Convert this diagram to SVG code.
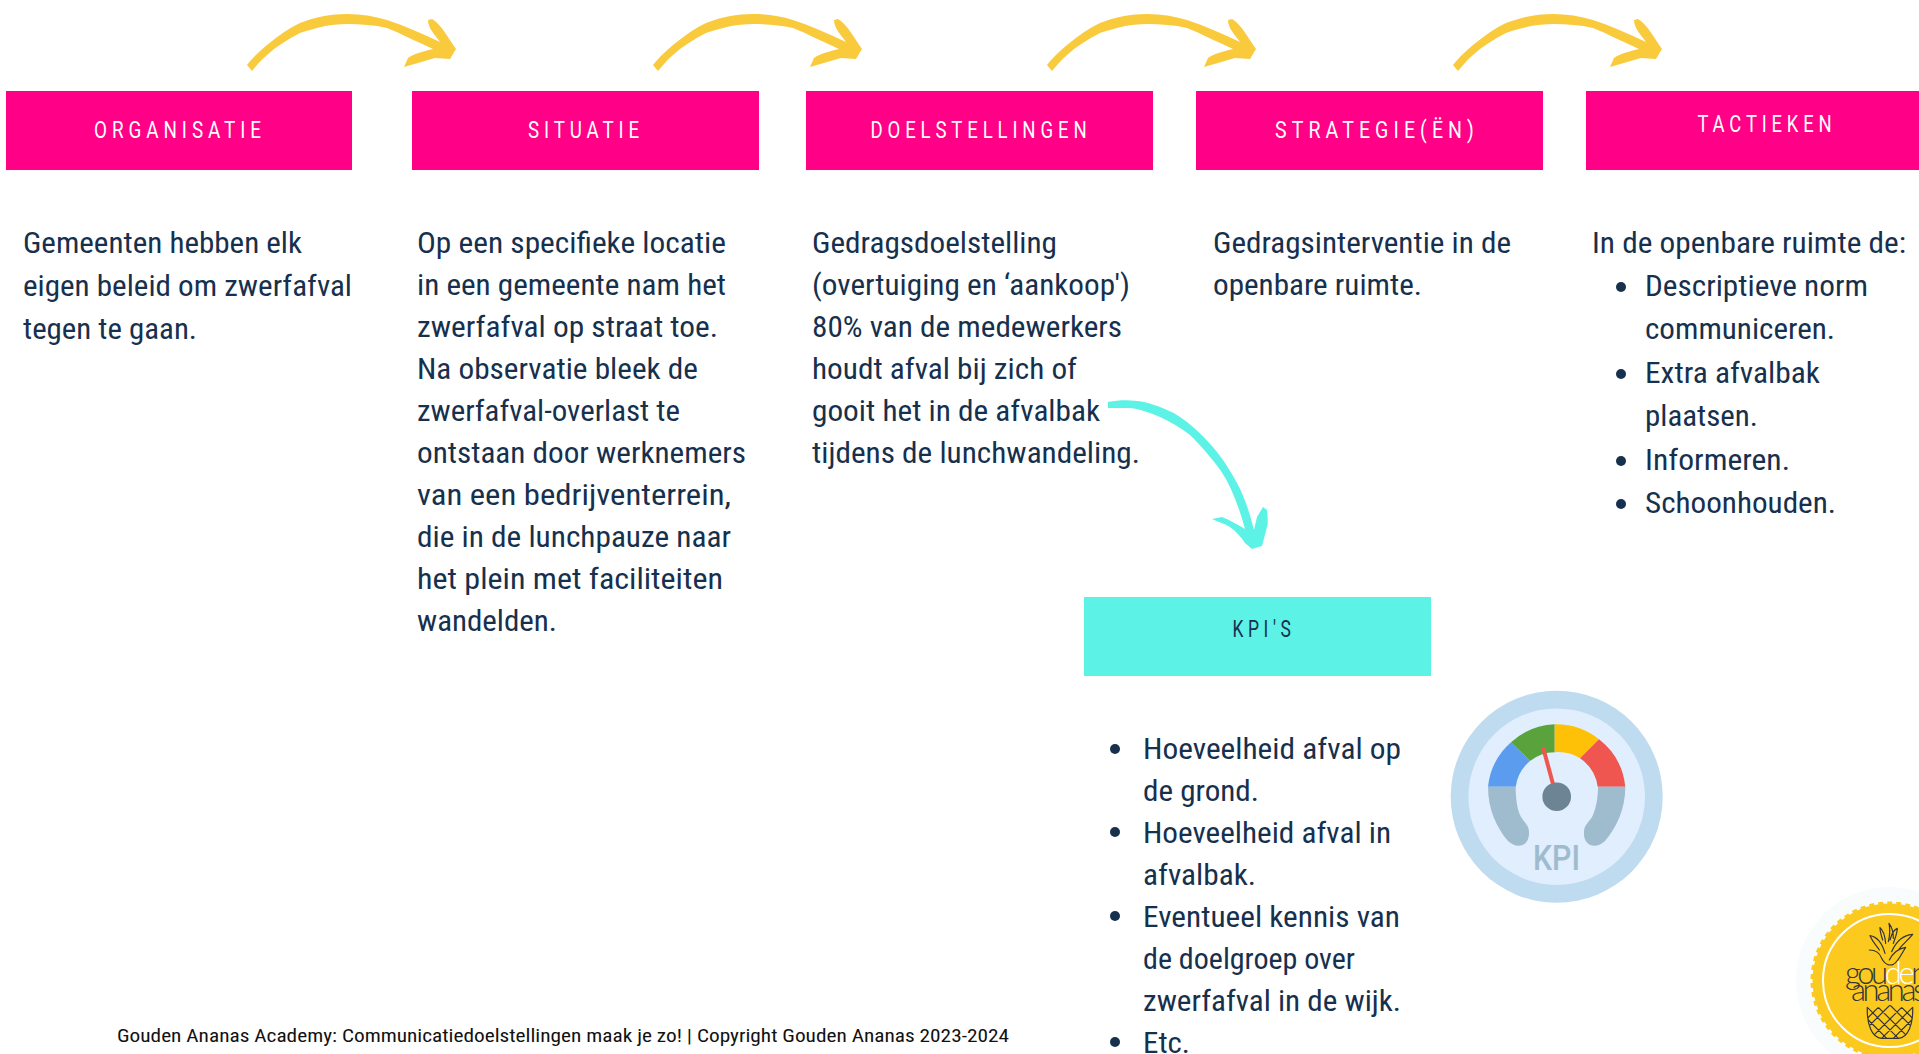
<svg xmlns="http://www.w3.org/2000/svg" width="1919" height="1054" viewBox="0 0 1919 1054">
<style>
text{font-family:"Roboto","Liberation Sans",sans-serif}
.b{font-size:30px;fill:#16304d;font-stretch:condensed}
.l{font-size:23px;font-weight:400;letter-spacing:6px;fill:#fff;text-anchor:middle}
.pk{fill:#ff0087}
.tq{fill:#5df2e6}
.ye{fill:#f9cb3c}
.bu{fill:#16304d}
.f{font-size:19px;fill:#111;font-stretch:condensed}
.ln{fill:none;stroke:#33353a;stroke-width:3.6;stroke-linecap:round;stroke-linejoin:round}
.lg{font-size:31px;font-family:"Lato",sans-serif;font-weight:300;letter-spacing:-3.4px;fill:#33353a}
</style>
<defs>
<path id="ya" class="ye" d="M247,65C252,58 259,52 267,45C278,36 289,28 300,23C315,17 331,14 347,14C361,14 374,16 387,20C405,26 423,34 440,42C435,35 428,28 428,20L432,19C442,25 448,38 456,49L450,59L435,58L404,67L408,58C415,53 425,51 433,49C417,42 402,34 387,28C374,25 361,24 347,24C338,24 331,25 325,26C317,28 308,30 300,33C288,39 277,46 267,55C261,60 257,65 252,71Z"/>
<clipPath id="pc"><path d="M82,112L115,112L150,105L185,112L218,112C220,160 205,205 175,205L125,205C95,205 80,160 82,112Z"/></clipPath>
</defs>
<rect width="1919" height="1054" fill="#fff"/>
<g id="connectors">
<use href="#ya"/>
<use href="#ya" x="406"/>
<use href="#ya" x="800"/>
<use href="#ya" x="1206"/>
<path class="tq" d="M1108,402C1118,400 1128,400 1137,401C1148,402 1158,406 1167,410C1177,414 1185,420 1193,427C1202,435 1210,443 1217,452C1225,462 1231,472 1237,483C1245,498 1250,514 1254,530C1255,525 1256,522 1257,517L1263,507L1267,510C1268,520 1268,525 1267,527L1262,546L1252,549L1245,543C1240,536 1236,531 1230,527C1224,523 1218,522 1212,519L1222,517C1230,520 1238,525 1245,529C1241,514 1236,500 1230,487C1225,476 1218,466 1210,457C1204,449 1197,442 1190,435C1181,428 1171,422 1160,417C1151,413 1140,409 1130,408L1108,408Z"/>
</g>
<g id="organisatie">
<rect class="pk" x="6" y="91" width="346" height="79"/>
<text class="l" x="180" y="138" textLength="172" lengthAdjust="spacingAndGlyphs">ORGANISATIE</text>
<text class="b" x="23" y="253" textLength="279" lengthAdjust="spacingAndGlyphs">Gemeenten hebben elk</text>
<text class="b" x="23" y="296" textLength="329" lengthAdjust="spacingAndGlyphs">eigen beleid om zwerfafval</text>
<text class="b" x="23" y="339" textLength="174" lengthAdjust="spacingAndGlyphs">tegen te gaan.</text>
</g>
<g id="situatie">
<rect class="pk" x="412" y="91" width="347" height="79"/>
<text class="l" x="586" y="138" textLength="116" lengthAdjust="spacingAndGlyphs">SITUATIE</text>
<text class="b" x="417" y="253" textLength="309" lengthAdjust="spacingAndGlyphs">Op een specifieke locatie</text>
<text class="b" x="417" y="295" textLength="309" lengthAdjust="spacingAndGlyphs">in een gemeente nam het</text>
<text class="b" x="417" y="337" textLength="301" lengthAdjust="spacingAndGlyphs">zwerfafval op straat toe.</text>
<text class="b" x="417" y="379" textLength="281" lengthAdjust="spacingAndGlyphs">Na observatie bleek de</text>
<text class="b" x="417" y="421" textLength="263" lengthAdjust="spacingAndGlyphs">zwerfafval-overlast te</text>
<text class="b" x="417" y="463" textLength="329" lengthAdjust="spacingAndGlyphs">ontstaan door werknemers</text>
<text class="b" x="417" y="505" textLength="314" lengthAdjust="spacingAndGlyphs">van een bedrijventerrein,</text>
<text class="b" x="417" y="547" textLength="314" lengthAdjust="spacingAndGlyphs">die in de lunchpauze naar</text>
<text class="b" x="417" y="589" textLength="306" lengthAdjust="spacingAndGlyphs">het plein met faciliteiten</text>
<text class="b" x="417" y="631" textLength="140" lengthAdjust="spacingAndGlyphs">wandelden.</text>
</g>
<g id="doelstellingen">
<rect class="pk" x="806" y="91" width="347" height="79"/>
<text class="l" x="981" y="138" textLength="221" lengthAdjust="spacingAndGlyphs">DOELSTELLINGEN</text>
<text class="b" x="812" y="253" textLength="245" lengthAdjust="spacingAndGlyphs">Gedragsdoelstelling</text>
<text class="b" x="812" y="295" textLength="318" lengthAdjust="spacingAndGlyphs">(overtuiging en ‘aankoop')</text>
<text class="b" x="812" y="337" textLength="310" lengthAdjust="spacingAndGlyphs">80% van de medewerkers</text>
<text class="b" x="812" y="379" textLength="265" lengthAdjust="spacingAndGlyphs">houdt afval bij zich of</text>
<text class="b" x="812" y="421" textLength="288" lengthAdjust="spacingAndGlyphs">gooit het in de afvalbak</text>
<text class="b" x="812" y="463" textLength="328" lengthAdjust="spacingAndGlyphs">tijdens de lunchwandeling.</text>
</g>
<g id="strategie">
<rect class="pk" x="1196" y="91" width="347" height="79"/>
<text class="l" x="1377" y="138" textLength="204" lengthAdjust="spacingAndGlyphs">STRATEGIE(ËN)</text>
<text class="b" x="1213" y="253" textLength="298" lengthAdjust="spacingAndGlyphs">Gedragsinterventie in de</text>
<text class="b" x="1213" y="295" textLength="209" lengthAdjust="spacingAndGlyphs">openbare ruimte.</text>
</g>
<g id="tactieken">
<rect class="pk" x="1586" y="91" width="333" height="79"/>
<text class="l" x="1767" y="132" textLength="139" lengthAdjust="spacingAndGlyphs">TACTIEKEN</text>
<text class="b" x="1592" y="253" textLength="314" lengthAdjust="spacingAndGlyphs">In de openbare ruimte de:</text>
<circle class="bu" cx="1621" cy="287" r="5"/>
<text class="b" x="1645" y="296" textLength="223" lengthAdjust="spacingAndGlyphs">Descriptieve norm</text>
<text class="b" x="1645" y="339" textLength="190" lengthAdjust="spacingAndGlyphs">communiceren.</text>
<circle class="bu" cx="1621" cy="374" r="5"/>
<text class="b" x="1645" y="383" textLength="175" lengthAdjust="spacingAndGlyphs">Extra afvalbak</text>
<text class="b" x="1645" y="426" textLength="113" lengthAdjust="spacingAndGlyphs">plaatsen.</text>
<circle class="bu" cx="1621" cy="461" r="5"/>
<text class="b" x="1645" y="470" textLength="145" lengthAdjust="spacingAndGlyphs">Informeren.</text>
<circle class="bu" cx="1621" cy="504" r="5"/>
<text class="b" x="1645" y="513" textLength="191" lengthAdjust="spacingAndGlyphs">Schoonhouden.</text>
</g>
<g id="kpis">
<rect class="tq" x="1084" y="597" width="347" height="79"/>
<text class="l" x="1264" y="637" textLength="63" lengthAdjust="spacingAndGlyphs" style="fill:#16304d">KPI'S</text>
<circle class="bu" cx="1115" cy="749" r="5"/>
<text class="b" x="1143" y="759" textLength="258" lengthAdjust="spacingAndGlyphs">Hoeveelheid afval op</text>
<text class="b" x="1143" y="801" textLength="116" lengthAdjust="spacingAndGlyphs">de grond.</text>
<circle class="bu" cx="1115" cy="832" r="5"/>
<text class="b" x="1143" y="843" textLength="248" lengthAdjust="spacingAndGlyphs">Hoeveelheid afval in</text>
<text class="b" x="1143" y="885" textLength="113" lengthAdjust="spacingAndGlyphs">afvalbak.</text>
<circle class="bu" cx="1115" cy="916" r="5"/>
<text class="b" x="1143" y="927" textLength="257" lengthAdjust="spacingAndGlyphs">Eventueel kennis van</text>
<text class="b" x="1143" y="969" textLength="212" lengthAdjust="spacingAndGlyphs">de doelgroep over</text>
<text class="b" x="1143" y="1011" textLength="258" lengthAdjust="spacingAndGlyphs">zwerfafval in de wijk.</text>
<circle class="bu" cx="1115" cy="1042" r="5"/>
<text class="b" x="1143" y="1053" textLength="47" lengthAdjust="spacingAndGlyphs">Etc.</text>
</g>
<g id="gauge">
<circle cx="1556.7" cy="796.7" r="106" fill="#bfdbef"/>
<circle cx="1556.7" cy="796.7" r="88.3" fill="#e0eefd"/>
<path fill="#5c9cee" d="M1488,786.7A69,69 0 0 1 1511,742.3L1530,761A41,41 0 0 0 1515.7,786.7Z"/>
<path fill="#5aa23b" d="M1511,742.3A69,69 0 0 1 1554.7,724.3V752.3A41,41 0 0 0 1530,761Z"/>
<path fill="#ffc107" d="M1554.7,724.3A69,69 0 0 1 1599,739.3L1580,758.3A41,41 0 0 0 1554.7,752.3Z"/>
<path fill="#f05650" d="M1599,739.3A69,69 0 0 1 1625.3,786.7H1597.7A41,41 0 0 0 1580,758.3Z"/>
<path fill="#9fbccf" d="M1488,786.7C1488,810 1497,828 1508,841C1517,850 1530,846 1529,832C1529,824 1523,822 1520,815C1517,808 1515.7,798 1515.7,786.7Z"/>
<path fill="#9fbccf" d="M1625.3,786.7C1625.3,810 1616,828 1605,841C1596,850 1583,846 1584,832C1584,824 1590,822 1593,815C1596,808 1598,798 1598,786.7Z"/>
<path stroke="#f05650" stroke-width="4" stroke-linecap="round" d="M1543.5,749L1553,784"/>
<circle cx="1556.7" cy="796.7" r="14.3" fill="#6d8495"/>
<text x="1533" y="870" textLength="47" lengthAdjust="spacingAndGlyphs" style="font-size:35px;font-weight:500;fill:#9fbccf">KPI</text>
</g>
<g id="logo">
<circle cx="1889.5" cy="980.5" r="93.5" fill="#f8fcfd"/>
<circle cx="1889.5" cy="980.5" r="77" fill="#fcca1f" stroke="#fcca1f" stroke-width="4" stroke-dasharray="5 4"/>
<circle cx="1889.5" cy="980.5" r="75.5" fill="#fcca1f"/>
<circle cx="1889.5" cy="980.5" r="66.5" fill="none" stroke="#fff" stroke-width="2"/>
<g transform="translate(1840,915) scale(.3333)">
<path class="ln" d="M88,105C110,105 120,115 125,130C135,150 150,152 160,148C175,140 185,115 197,97C180,100 160,110 148,135M90,62C110,65 125,80 135,115M90,62C100,85 110,92 118,105M218,58C195,60 170,75 155,110M218,58C205,75 190,85 175,105M120,38C130,45 135,65 137,85M120,38C120,50 125,65 128,75M147,25C150,40 150,60 145,80M147,25C155,35 160,50 160,70M172,40C160,45 155,55 150,75M172,40C172,55 165,70 160,85"/>
</g>
<g transform="translate(1840,970) scale(.3333)">
<g clip-path="url(#pc)"><path class="ln" d="M82,112L175,205M115,112L205,202M150,105L215,170M185,112L225,152M85,150L140,205M218,112L125,205M185,112L95,202M150,105L85,170M115,112L75,152M215,150L160,205"/></g>
<path class="ln" d="M82,112C80,160 95,205 125,205L175,205C205,205 220,160 218,112"/>
</g>
<text class="lg" x="1845" y="984">gou<tspan fill="#fff">de</tspan>n</text>
<text class="lg" x="1851" y="1001">ananas</text>
</g>
<text id="footer" class="f" x="117" y="1042" textLength="892" lengthAdjust="spacingAndGlyphs">Gouden Ananas Academy: Communicatiedoelstellingen maak je zo! | Copyright Gouden Ananas 2023-2024</text>
</svg>
